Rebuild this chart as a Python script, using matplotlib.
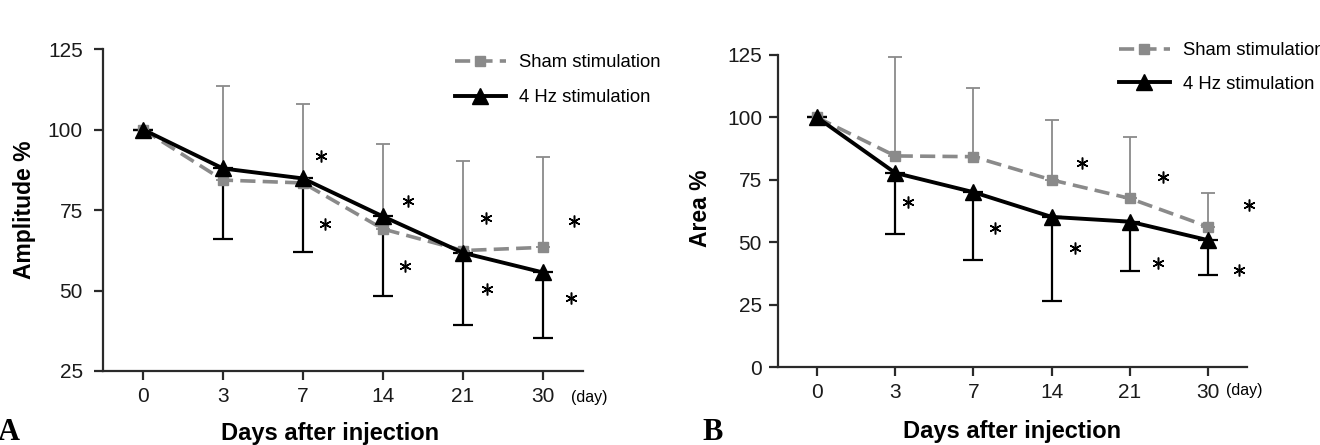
import matplotlib
matplotlib.use('Agg')
import matplotlib.pyplot as plt
from matplotlib.transforms import Bbox, TransformedBbox

plt.rcParams['font.family'] = ['Liberation Sans', 'DejaVu Sans']

days = ['0', '3', '7', '14', '21', '30']
x = list(range(len(days)))

# panel A: amplitude %
amp_sham = [100, 84.3, 83.4, 69.1, 62.4, 63.4]
amp_sham_sd = [0, 29.3, 24.4, 26.5, 27.8, 28.0]
amp_4hz = [100, 87.9, 84.8, 73.0, 61.7, 55.6]
amp_4hz_sd = [0, 21.9, 22.9, 24.6, 22.3, 20.5]
amp_star_x = [2.23, 2.27, 3.31, 3.27, 4.29, 4.30, 5.39, 5.35]
amp_star_y = [91.9, 70.5, 77.7, 57.5, 72.5, 50.5, 71.5, 47.7]

# panel B: area %
area_sham = [100, 84.6, 84.3, 75.0, 67.6, 56.3]
area_sham_sd = [0, 39.4, 27.3, 23.8, 24.4, 13.3]
area_4hz = [100, 77.8, 70.1, 60.2, 58.3, 50.9]
area_4hz_sd = [0, 24.5, 27.2, 33.5, 19.6, 14.0]
area_star_x = [1.16, 2.27, 3.39, 3.30, 4.43, 4.36, 5.52, 5.40]
area_star_y = [66.3, 55.6, 81.9, 47.6, 76.3, 41.6, 65.0, 38.9]

GRAY = '#8a8a8a'
AXC = '#2a2a2a'

fig = plt.figure(figsize=(13.2, 4.45), dpi=100)
axA = fig.add_axes([103/1320, 74/445, 480/1320, 322/445])
axB = fig.add_axes([778/1320, 77.7/445, 469/1320, 312.3/445])


def draw(ax, sham, sham_sd, hz, hz_sd, sx, sy, ylim, yticks, ylabel, ypad):
    zeros = [0] * len(x)
    ax.errorbar(x, sham, yerr=[zeros, sham_sd], fmt='none', ecolor=GRAY,
                elinewidth=1.3, capsize=4.7, capthick=1.3, clip_on=False, zorder=2)
    ax.errorbar(x, hz, yerr=[hz_sd, zeros], fmt='none', ecolor='black',
                elinewidth=1.6, capsize=7.2, capthick=1.6, clip_on=False, zorder=2)
    ax.plot(x, sham, color=GRAY, lw=2.6, ls=(0, (4.2, 2.0)), marker='s', ms=6.5,
            mfc=GRAY, mec=GRAY, clip_on=False, zorder=3, label='Sham stimulation')
    ax.plot(x, hz, color='black', lw=2.8, marker='^', ms=12, mfc='black', mec='black',
            clip_on=False, zorder=4, label='4 Hz stimulation')
    ax.plot(sx, sy, ls='none', marker=(6, 2, 0), ms=8.5, mew=1.1, color='black',
            clip_on=False, zorder=5)

    ax.set_xlim(-0.5, 5.5)
    ax.set_ylim(*ylim)
    ax.set_xticks(x)
    ax.set_xticklabels(days)
    ax.set_yticks(yticks)
    for s in ['top', 'right']:
        ax.spines[s].set_visible(False)
    for s in ['left', 'bottom']:
        ax.spines[s].set_linewidth(1.6)
        ax.spines[s].set_color(AXC)
    ax.tick_params(axis='both', length=6.5, width=1.6, color=AXC, labelsize=15,
                   labelcolor='#1a1a1a')
    ax.tick_params(axis='y', pad=ypad)
    ax.tick_params(axis='x', pad=5)
    ax.set_ylabel(ylabel, fontsize=16.5, fontweight='bold')
    ax.set_xlabel('Days after injection', fontsize=17, fontweight='bold')
    ax.xaxis.label.set_va('center')
    ax.yaxis.label.set_va('center')


draw(axA, amp_sham, amp_sham_sd, amp_4hz, amp_4hz_sd, amp_star_x, amp_star_y,
     (25, 125), [25, 50, 75, 100, 125], 'Amplitude %', 8)
draw(axB, area_sham, area_sham_sd, area_4hz, area_4hz_sd, area_star_x, area_star_y,
     (0, 125), [0, 25, 50, 75, 100, 125], 'Area %', 5)

axA.yaxis.set_label_coords(-0.1625, 0.5)
axA.xaxis.set_label_coords(0.473, -0.193)
axB.yaxis.set_label_coords(-0.166, 0.51)
axB.xaxis.set_label_coords(0.50, -0.205)

axA.text(0.975, -0.081, '(day)', transform=axA.transAxes, fontsize=11.5,
         ha='left', va='center')
axB.text(0.955, -0.075, '(day)', transform=axB.transAxes, fontsize=11.5,
         ha='left', va='center')

fig.text(-2/1320, 1 - 433/445, 'A', family='Liberation Serif', fontweight='bold',
         fontsize=22, ha='left', va='center')
fig.text(702/1320, 1 - 433/445, 'B', family='Liberation Serif', fontweight='bold',
         fontsize=22, ha='left', va='center')

legA = axA.legend(loc='upper left', bbox_to_anchor=(454.5/1320, 1 - 54/445),
                  bbox_transform=fig.transFigure, frameon=False, fontsize=13.3,
                  numpoints=1, handlelength=2.8, handletextpad=0.7,
                  labelspacing=1.0, borderpad=0, borderaxespad=0)
clip = TransformedBbox(Bbox.from_extents(0, 0, 0.5, 1), fig.transFigure)
for t in legA.get_texts():
    t.set_clip_on(True)
    t.set_clip_box(clip)

axB.legend(loc='upper left', bbox_to_anchor=(1118.5/1320, 1 - 42/445),
           bbox_transform=fig.transFigure, frameon=False, fontsize=13.3,
           numpoints=1, handlelength=2.8, handletextpad=0.7,
           labelspacing=0.9, borderpad=0, borderaxespad=0)

fig.savefig('out.png', dpi=100)
